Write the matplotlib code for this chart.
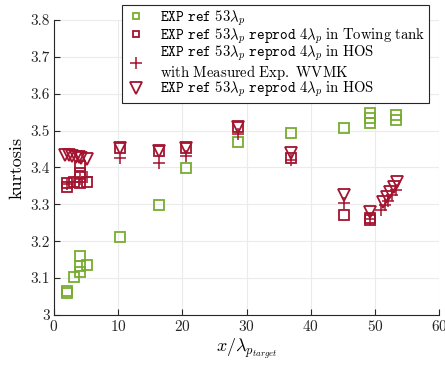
import matplotlib
matplotlib.use("Agg")
import matplotlib.pyplot as plt

plt.rcParams['mathtext.fontset'] = 'cm'
plt.rcParams['font.family'] = 'cmr10'
plt.rcParams['axes.formatter.use_mathtext'] = True

green = '#77AC30'
red = '#A2142F'

# EXP ref 53 lambda_p
ref_x = [2.1, 2.1, 3.1, 4.15, 4.15, 4.15, 5.2, 10.3, 16.4, 20.5, 28.6, 36.9, 45.1, 49.2, 49.2, 49.2, 53.3, 53.3]
ref_y = [3.060, 3.064, 3.104, 3.116, 3.134, 3.160, 3.136, 3.211, 3.298, 3.398, 3.470, 3.494, 3.506, 3.522, 3.535, 3.547, 3.528, 3.542]

# reproduced in towing tank
tank_x = [2.1, 2.1, 3.1, 4.15, 4.15, 4.15, 4.15, 5.2, 10.3, 16.4, 20.5, 28.6, 36.9, 45.1, 49.2, 49.2]
tank_y = [3.348, 3.357, 3.361, 3.357, 3.375, 3.384, 3.405, 3.360, 3.452, 3.445, 3.452, 3.510, 3.425, 3.271, 3.257, 3.262]

# HOS with measured WVMK
wvmk_x = [2.1, 3.1, 4.15, 5.2, 10.3, 16.4, 20.5, 28.6, 36.9, 45.1, 49.2, 51.0, 51.6, 52.1, 52.7, 53.2]
wvmk_y = [3.355, 3.360, 3.370, 3.375, 3.425, 3.413, 3.430, 3.490, 3.420, 3.303, 3.260, 3.285, 3.298, 3.310, 3.325, 3.340]

# HOS
hos_x = [1.8, 2.4, 2.9, 3.4, 3.9, 4.3, 5.2, 10.3, 16.4, 20.5, 28.6, 36.9, 45.1, 49.2, 51.3, 51.8, 52.3, 52.9, 53.4]
hos_y = [3.433, 3.433, 3.431, 3.429, 3.428, 3.426, 3.422, 3.452, 3.446, 3.452, 3.510, 3.438, 3.325, 3.280, 3.307, 3.321, 3.334, 3.348, 3.361]

labels = [r'$\mathtt{EXP\ ref}\ 53\lambda_p$',
          r'$\mathtt{EXP\ ref}\ 53\lambda_p\ \mathtt{reprod}\ 4\lambda_p\ \mathrm{in\ Towing\ tank}$',
          r'$\mathtt{EXP\ ref}\ 53\lambda_p\ \mathtt{reprod}\ 4\lambda_p\ \mathrm{in\ HOS}$' + '\n' + r'$\mathrm{with\ Measured\ Exp.\ WVMK}$',
          r'$\mathtt{EXP\ ref}\ 53\lambda_p\ \mathtt{reprod}\ 4\lambda_p\ \mathrm{in\ HOS}$']

fig = plt.figure(figsize=(4.45, 3.67), dpi=100)
ax = fig.add_axes([0.121, 0.1417, 0.866, 0.8038])

ax.plot(ref_x, ref_y, 's', mfc='none', mec=green, ms=6.5, mew=1.3, label=labels[0])
ax.plot(tank_x, tank_y, 's', mfc='none', mec=red, ms=6.5, mew=1.3, label=labels[1])
ax.plot(wvmk_x, wvmk_y, '+', color=red, ms=8, mew=1.1, label=labels[2])
ax.plot(hos_x, hos_y, 'v', mfc='none', mec=red, ms=9, mew=1.3, label=labels[3])

ax.set_xlim(0, 60)
ax.set_ylim(3.0, 3.8)
ax.set_xticks([0, 10, 20, 30, 40, 50, 60])
ax.set_yticks([3.0, 3.1, 3.2, 3.3, 3.4, 3.5, 3.6, 3.7, 3.8])
ax.set_yticklabels(['3', '3.1', '3.2', '3.3', '3.4', '3.5', '3.6', '3.7', '3.8'])
ax.grid(True, color='#ebebeb', lw=0.8)
ax.set_axisbelow(True)
for s in ['top', 'right']:
    ax.spines[s].set_visible(False)
for s in ['left', 'bottom']:
    ax.spines[s].set_color('#262626')
    ax.spines[s].set_linewidth(0.8)
ax.tick_params(direction='in', length=4, width=0.8, colors='#262626', labelsize=11, pad=3)

ax.set_xlabel(r'$x/\lambda_{p_{target}}$', fontsize=13, labelpad=2)
ax.set_ylabel('kurtosis', fontsize=13, labelpad=4)

leg = ax.legend(loc='upper right', bbox_to_anchor=(0.985, 1.066), fontsize=10.6, frameon=True,
                fancybox=False, edgecolor='#262626', framealpha=1, handlelength=1.4,
                borderpad=0.25, labelspacing=-0.12, handletextpad=0.9,
                borderaxespad=0.3)
leg.get_frame().set_linewidth(0.8)
for t in leg.get_texts():
    t.set_linespacing(0.95)
hs = leg.legend_handles
hs[0].set_markersize(5)
hs[1].set_markersize(5)
hs[2].set_markersize(8)
hs[3].set_markersize(8)

fig.savefig('out.png', dpi=100)
